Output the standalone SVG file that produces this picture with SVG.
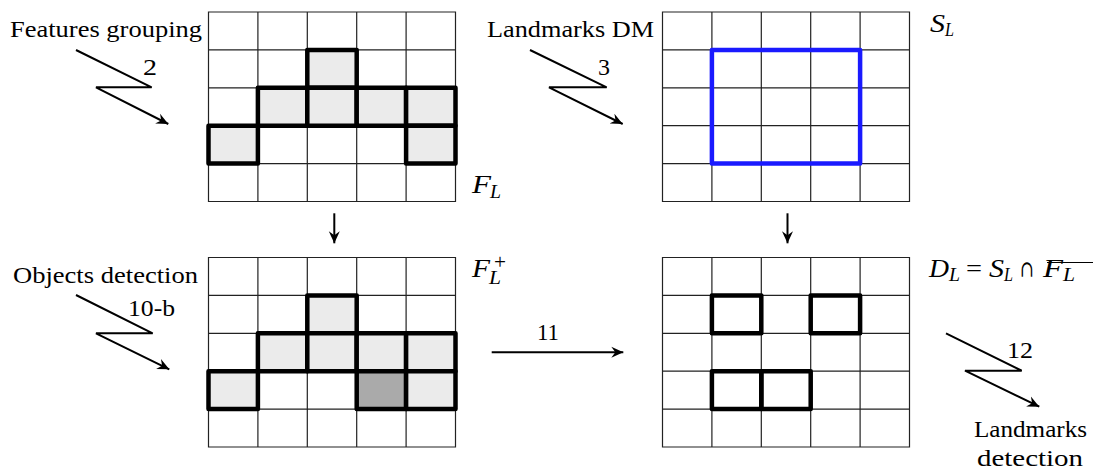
<svg xmlns="http://www.w3.org/2000/svg" xmlns:xlink="http://www.w3.org/1999/xlink" width="1100" height="470" viewBox="0 0 1100 470">
<style>
.t{font-size:24px;fill:#000}
.m{font-style:italic;fill:#000}
.r{fill:#000}
.gl{fill:none;stroke:#222;stroke-width:1.2}
.thick{stroke:#000;stroke-width:4.5;stroke-linejoin:round}
.lg{fill:#ebebeb}
.dg{fill:#aaaaaa}
.wh{fill:none}
.conn{fill:none;stroke:#000;stroke-width:2}
</style>
<defs>
<marker id="ah" viewBox="-12 -6 13 12" refX="0" refY="0" markerWidth="13" markerHeight="12" markerUnits="userSpaceOnUse" orient="auto">
<path d="M0,0 L-12,-5.5 L-8,0 L-12,5.5 Z" fill="#000"/>
</marker>
<g id="grid">
<rect x="0" y="0" width="247" height="189.5" fill="#fff" stroke="none"/>
<path class="gl" d="M0,0H247V189.5H0Z M49.4,0V189.5 M98.8,0V189.5 M148.2,0V189.5 M197.6,0V189.5 M0,37.9H247 M0,75.8H247 M0,113.7H247 M0,151.6H247"/>
</g>
</defs>

<g id="node-FL" transform="translate(208.5,12)">
<use xlink:href="#grid"/>
<rect class="lg thick" x="98.8" y="37.9" width="49.4" height="37.9"/>
<rect class="lg thick" x="49.4" y="75.8" width="49.4" height="37.9"/>
<rect class="lg thick" x="98.8" y="75.8" width="49.4" height="37.9"/>
<rect class="lg thick" x="148.2" y="75.8" width="49.4" height="37.9"/>
<rect class="lg thick" x="197.6" y="75.8" width="49.4" height="37.9"/>
<rect class="lg thick" x="0" y="113.7" width="49.4" height="37.9"/>
<rect class="lg thick" x="197.6" y="113.7" width="49.4" height="37.9"/>
</g>

<g id="node-SL" transform="translate(662.5,12)">
<use xlink:href="#grid"/>
<rect x="49.4" y="37.9" width="148.2" height="113.7" fill="none" stroke="#1a1aff" stroke-width="4.5" stroke-linejoin="round"/>
</g>

<g id="node-FLplus" transform="translate(208.5,257.5)">
<use xlink:href="#grid"/>
<rect class="lg thick" x="98.8" y="37.9" width="49.4" height="37.9"/>
<rect class="lg thick" x="49.4" y="75.8" width="49.4" height="37.9"/>
<rect class="lg thick" x="98.8" y="75.8" width="49.4" height="37.9"/>
<rect class="lg thick" x="148.2" y="75.8" width="49.4" height="37.9"/>
<rect class="lg thick" x="197.6" y="75.8" width="49.4" height="37.9"/>
<rect class="lg thick" x="0" y="113.7" width="49.4" height="37.9"/>
<rect class="dg thick" x="148.2" y="113.7" width="49.4" height="37.9"/>
<rect class="lg thick" x="197.6" y="113.7" width="49.4" height="37.9"/>
</g>

<g id="node-DL" transform="translate(662.5,257.5)">
<use xlink:href="#grid"/>
<rect class="wh thick" x="49.4" y="37.9" width="49.4" height="37.9"/>
<rect class="wh thick" x="148.2" y="37.9" width="49.4" height="37.9"/>
<rect class="wh thick" x="49.4" y="113.7" width="49.4" height="37.9"/>
<rect class="wh thick" x="98.8" y="113.7" width="49.4" height="37.9"/>
</g>

<g id="labels" font-family="'Liberation Serif', 'Times New Roman', serif">
<text class="t" x="10" y="37" textLength="192" lengthAdjust="spacingAndGlyphs">Features grouping</text>
<text class="t" x="487" y="37" textLength="167" lengthAdjust="spacingAndGlyphs">Landmarks DM</text>
<text class="t" x="13" y="283" textLength="185" lengthAdjust="spacingAndGlyphs">Objects detection</text>
<text class="t" x="143" y="75" textLength="14" lengthAdjust="spacingAndGlyphs">2</text>
<text class="t" x="598" y="75" textLength="12" lengthAdjust="spacingAndGlyphs">3</text>
<text class="t" x="128" y="316" textLength="47" lengthAdjust="spacingAndGlyphs">10-b</text>
<text class="t" x="537" y="340" textLength="22" lengthAdjust="spacingAndGlyphs">11</text>
<text class="t" x="1007" y="358" textLength="26" lengthAdjust="spacingAndGlyphs">12</text>
<text class="t" x="974" y="437" textLength="113" lengthAdjust="spacingAndGlyphs">Landmarks</text>
<text class="t" x="977" y="466" textLength="106" lengthAdjust="spacingAndGlyphs">detection</text>

<text class="m" x="472" y="193" font-size="26" textLength="19" lengthAdjust="spacingAndGlyphs">F</text>
<text class="m" x="490" y="198" font-size="18" textLength="11" lengthAdjust="spacingAndGlyphs">L</text>

<text class="m" x="930" y="32" font-size="26" textLength="15" lengthAdjust="spacingAndGlyphs">S</text>
<text class="m" x="945" y="36" font-size="18" textLength="9" lengthAdjust="spacingAndGlyphs">L</text>

<text class="m" x="472" y="277" font-size="26" textLength="18" lengthAdjust="spacingAndGlyphs">F</text>
<text class="m" x="489" y="284" font-size="18" textLength="12" lengthAdjust="spacingAndGlyphs">L</text>
<text class="r" x="494" y="269" font-size="20" textLength="12" lengthAdjust="spacingAndGlyphs">+</text>

<text class="m" x="929" y="277" font-size="26" textLength="20" lengthAdjust="spacingAndGlyphs">D</text>
<text class="m" x="949" y="281" font-size="18" textLength="11" lengthAdjust="spacingAndGlyphs">L</text>
<text class="r" x="966" y="277" font-size="26" textLength="16" lengthAdjust="spacingAndGlyphs">=</text>
<text class="m" x="989" y="277" font-size="26" textLength="15" lengthAdjust="spacingAndGlyphs">S</text>
<text class="m" x="1004" y="281" font-size="18" textLength="9" lengthAdjust="spacingAndGlyphs">L</text>
<text class="r" x="1020" y="277" font-size="23" textLength="14" lengthAdjust="spacingAndGlyphs" font-family="'DejaVu Serif', serif">∩</text>
<text class="m" x="1043" y="277" font-size="26" textLength="20" lengthAdjust="spacingAndGlyphs">F</text>
<text class="m" x="1063" y="281" font-size="18" textLength="12" lengthAdjust="spacingAndGlyphs">L</text>
<line x1="1047" y1="262.5" x2="1093" y2="262.5" stroke="#000" stroke-width="1.2"/>
</g>

<g id="connectors">
<path class="conn" d="M76,50 L151.7,87.3 L96,87.3 L168.3,124" marker-end="url(#ah)"/>
<path class="conn" d="M530,50 L606.7,87.3 L549,87.3 L622.7,124" marker-end="url(#ah)"/>
<path class="conn" d="M76,295 L152.7,333.3 L96,333.3 L169.3,369.3" marker-end="url(#ah)"/>
<path class="conn" d="M946,333.3 L1021.7,370.7 L965,370.7 L1039.3,406.7" marker-end="url(#ah)"/>
<path class="conn" d="M491.7,352.3 L623.3,352.3" marker-end="url(#ah)"/>
<path class="conn" d="M334.3,213.3 L334.3,243.3" marker-end="url(#ah)"/>
<path class="conn" d="M787.5,213.3 L787.5,243.3" marker-end="url(#ah)"/>
</g>
</svg>
